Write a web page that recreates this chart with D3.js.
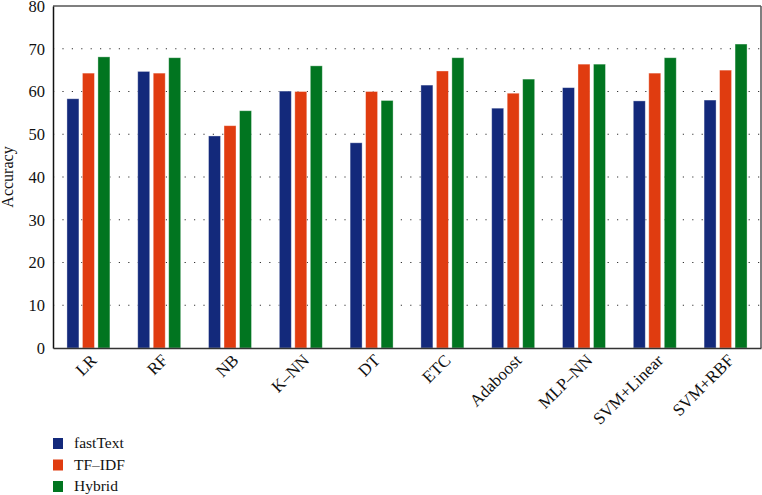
<!DOCTYPE html>
<html><head><meta charset="utf-8">
<script src="https://cdn.jsdelivr.net/npm/d3@7"></script>
<style>body{margin:0;background:#fff}svg{display:block}text{font-family:"Liberation Serif","Times New Roman",serif;fill:#111}</style>
</head><body><svg id="c" width="762" height="495"></svg>
<script>
const categories = ["LR","RF","NB","K\u2013NN","DT","ETC","Adaboost","MLP\u2013NN","SVM+Linear","SVM+RBF"];
const seriesNames = ["fastText","TF\u2013IDF","Hybrid"];
const fastText = [58.3,64.7,49.6,60.1,48.0,61.5,56.1,60.9,57.8,58.0];
const tfidf    = [64.3,64.3,52.0,60.0,60.0,64.8,59.6,66.4,64.3,65.0];
const hybrid   = [68.1,67.9,55.5,66.0,57.9,67.9,62.9,66.4,67.9,71.1];
const yTicks = [0,10,20,30,40,50,60,70,80];
const colors = ["#13297b","#e03c10","#017520"];

const seriesValues = [fastText, tfidf, hybrid];
const svg = d3.select("#c");
const L = 53, R = 761, T = 6, B = 348;
const x0 = d3.scaleBand().domain(categories).range([L, R]).paddingInner(0.393).paddingOuter(0.197);
const x1 = d3.scaleBand().domain(seriesNames).range([0, x0.bandwidth()]).paddingInner(0.226);
const y = d3.scaleLinear().domain([0, 80]).range([B, T]);

// grid
svg.append("g").selectAll("line").data(yTicks.filter(t => t > 0 && t < 80)).join("line")
  .attr("x1", L).attr("x2", R).attr("y1", d => y(d)).attr("y2", d => y(d))
  .attr("stroke", "#333").attr("stroke-width", 1.2).attr("stroke-dasharray", "1.2,8.2");

// bars
const g = svg.append("g");
categories.forEach((c, i) => {
  seriesNames.forEach((s, j) => {
    const v = seriesValues[j][i];
    g.append("rect")
      .attr("x", x0(c) + x1(s)).attr("width", x1.bandwidth())
      .attr("y", y(v)).attr("height", y(0) - y(v))
      .attr("fill", colors[j]).attr("stroke", "#fff").attr("stroke-opacity", 0.45).attr("stroke-width", 0.8);
  });
});

// frame
svg.append("line").attr("x1", L).attr("x2", R).attr("y1", T).attr("y2", T).attr("stroke", "#555").attr("stroke-width", 1.5);
svg.append("line").attr("x1", R).attr("x2", R).attr("y1", T).attr("y2", B).attr("stroke", "#555").attr("stroke-width", 1.5);

// y axis
const ya = svg.append("g").attr("transform", `translate(${L},0)`)
  .call(d3.axisLeft(y).tickValues(yTicks).tickSize(0).tickPadding(8));
ya.select(".domain").attr("stroke", "#111").attr("stroke-width", 1.5);
ya.selectAll("text").style("font-size", "16.5px").style("font-family", '"Liberation Serif",serif').attr("fill", "#111");

// x axis
const xa = svg.append("g").attr("transform", `translate(0,${B})`)
  .call(d3.axisBottom(x0).tickSize(0).tickFormat(""));
xa.select(".domain").attr("stroke", "#333").attr("stroke-width", 1.5);
svg.append("g").selectAll("text").data(categories).join("text")
  .attr("transform", d => `translate(${x0(d) + x0.bandwidth()/2 + 1},${B + 5}) rotate(-45)`)
  .attr("text-anchor", "end").attr("dy", "0.7em")
  .style("font-size", "17px").text(d => d);

// y label
svg.append("text").attr("transform", `translate(13,${(T + B)/2}) rotate(-90)`)
  .attr("text-anchor", "middle").style("font-size", "16px").text("Accuracy");

// legend
const lg = svg.append("g");
seriesNames.forEach((s, j) => {
  const yy = 438 + j * 21.5;
  lg.append("rect").attr("x", 53).attr("y", yy).attr("width", 10).attr("height", 11).attr("fill", colors[j]);
  lg.append("text").attr("x", 74).attr("y", yy + 10).style("font-size", "15.5px").text(seriesNames[j]);
});
</script></body></html>
